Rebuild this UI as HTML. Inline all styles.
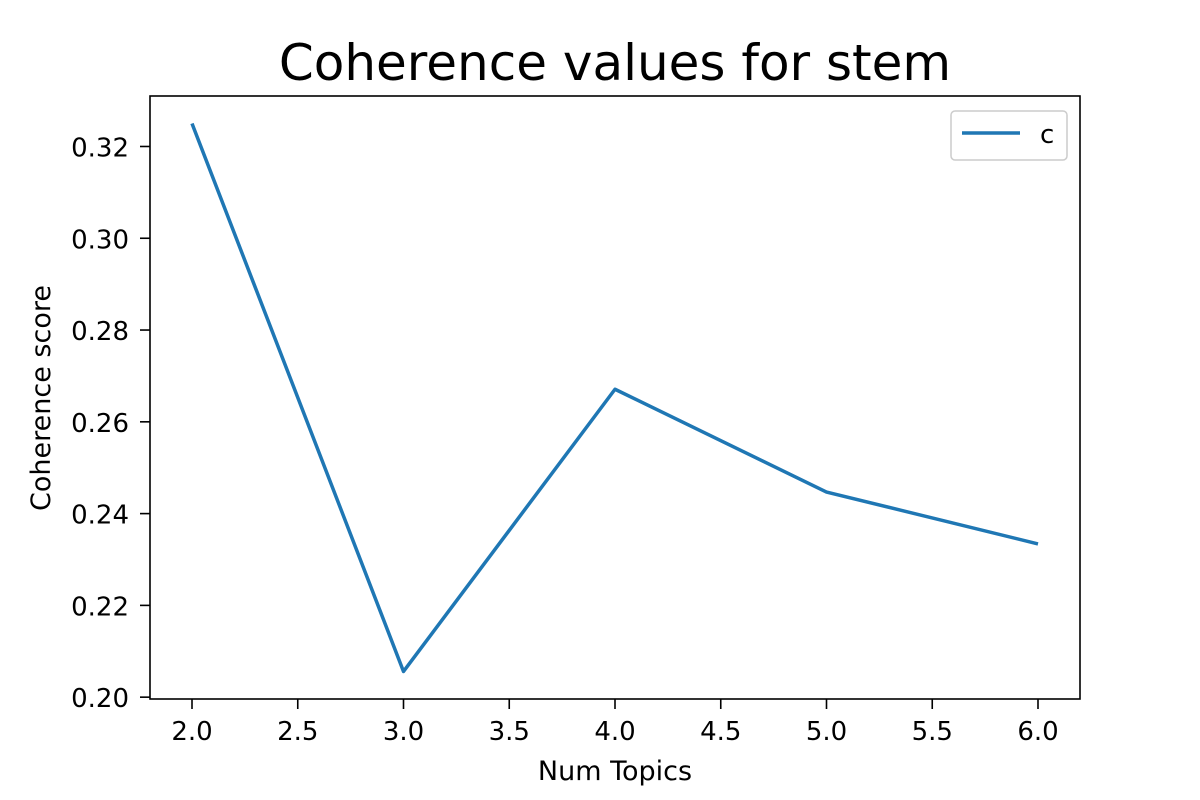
<!DOCTYPE html>
<html><head><meta charset="utf-8">
<style>
html,body{margin:0;padding:0;background:#fff;}
svg{display:block;font-family:"DejaVu Sans","Liberation Sans",sans-serif;}
</style></head>
<body>
<svg id="chart" width="1200" height="800">
<text x="615" y="80" font-size="50" text-anchor="middle">Coherence values for stem</text>
<g id="ticks"></g>
<polyline id="line" fill="none" stroke="#1f77b4" stroke-width="3.5" stroke-linejoin="round"/>
<rect x="150" y="96" width="930" height="603" fill="none" stroke="#000" stroke-width="1.6"/>
<text x="615" y="780" font-size="27" text-anchor="middle">Num Topics</text>
<text x="0" y="0" font-size="27" text-anchor="middle" transform="translate(50,398) rotate(-90)">Coherence score</text>
<g>
<rect x="951" y="111" width="116" height="49" rx="4" fill="#fff" stroke="#ccc" stroke-width="1.5"/>
<line x1="962" y1="133" x2="1020" y2="133" stroke="#1f77b4" stroke-width="3.5"/>
<text x="1040" y="143" font-size="26">c</text>
</g>
</svg>
<script>
const topics = [2, 3, 4, 5, 6];
const coherence = [0.325, 0.2056, 0.2671, 0.2447, 0.2334];
const xTicks = ["2.0","2.5","3.0","3.5","4.0","4.5","5.0","5.5","6.0"];
const yTicks = ["0.20","0.22","0.24","0.26","0.28","0.30","0.32"];
const X0=150,X1=1080,Y0=699,Y1=96;
const xMin=1.8014,xMax=6.1986,yMin=0.1996,yMax=0.331;
function sx(v){return X0+(v-xMin)/(xMax-xMin)*(X1-X0);}
function sy(v){return Y0-(v-yMin)/(yMax-yMin)*(Y0-Y1);}
const NS="http://www.w3.org/2000/svg";
const g=document.getElementById('ticks');
xTicks.forEach(t=>{
  const x=sx(parseFloat(t));
  const l=document.createElementNS(NS,'line');
  l.setAttribute('x1',x);l.setAttribute('x2',x);l.setAttribute('y1',Y0);l.setAttribute('y2',Y0+10);
  l.setAttribute('stroke','#000');l.setAttribute('stroke-width','1.6');
  
  
  g.appendChild(l);
  const tx=document.createElementNS(NS,'text');
  tx.setAttribute('x',x);tx.setAttribute('y',Y0+41);tx.setAttribute('font-size','26');tx.setAttribute('text-anchor','middle');
  tx.textContent=t;
  
  
  g.appendChild(tx);
});
yTicks.forEach(t=>{
  const y=sy(parseFloat(t));
  const l=document.createElementNS(NS,'line');
  l.setAttribute('x1',X0-10);l.setAttribute('x2',X0);l.setAttribute('y1',y);l.setAttribute('y2',y);
  l.setAttribute('stroke','#000');l.setAttribute('stroke-width','1.6');
  
  
  g.appendChild(l);
  const tx=document.createElementNS(NS,'text');
  tx.setAttribute('x',X0-21);tx.setAttribute('y',y+10);tx.setAttribute('font-size','26');tx.setAttribute('text-anchor','end');
  tx.textContent=t;
  
  
  g.appendChild(tx);
});
document.getElementById('line').setAttribute('points',topics.map((t,i)=>sx(t)+','+sy(coherence[i])).join(' '));
</script>
</body></html>
